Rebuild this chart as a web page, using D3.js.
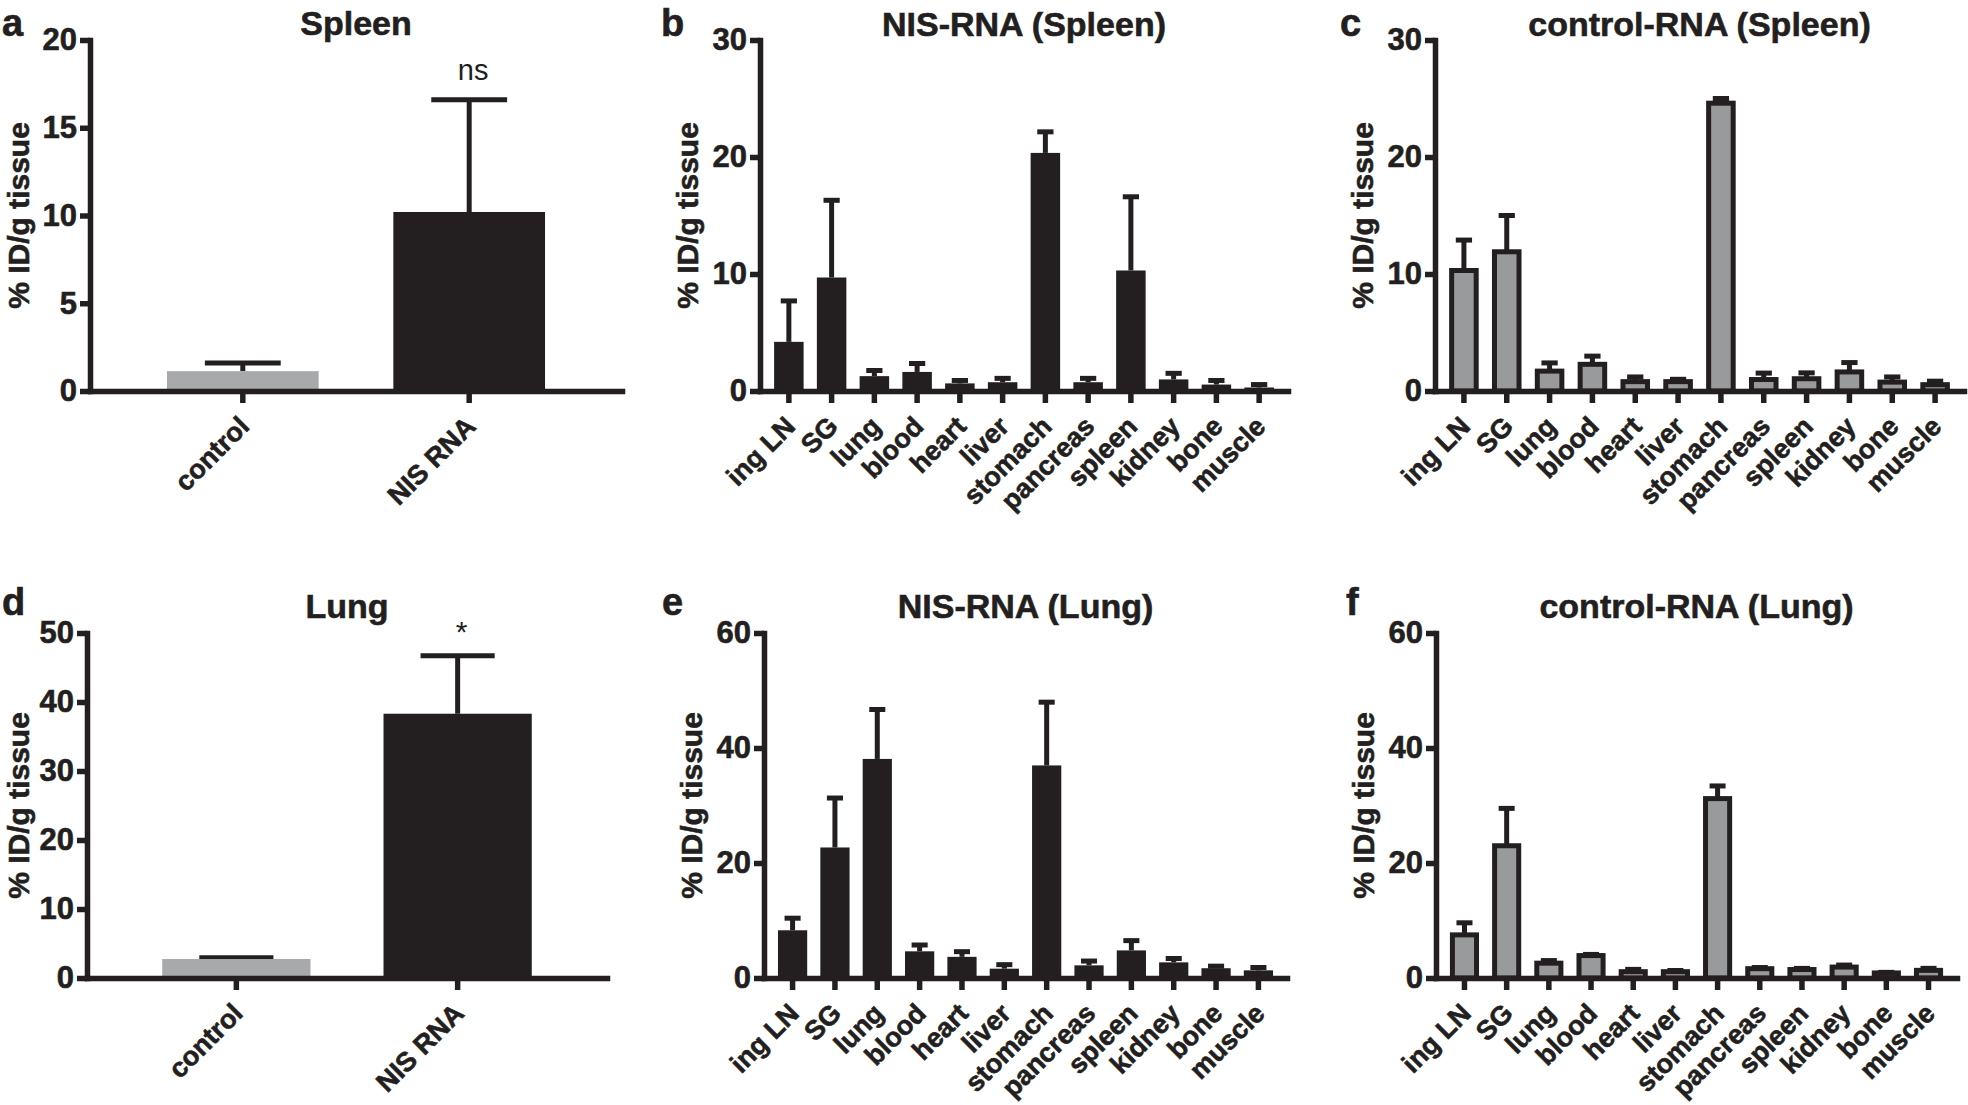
<!DOCTYPE html>
<html>
<head>
<meta charset="utf-8">
<script src="https://cdn.jsdelivr.net/npm/d3@7"></script>
<style>
body { margin: 0; background: #fff; }
svg text { font-family: "Liberation Sans", Arial, sans-serif; fill: #231f20; }
</style>
</head>
<body>
<script>
// categories
let groups = ['control', 'NIS RNA'];
let organs = ['ing LN', 'SG', 'lung', 'blood', 'heart', 'liver', 'stomach', 'pancreas', 'spleen', 'kidney', 'bone', 'muscle'];

// a / d : control vs NIS RNA (mean, upper SEM)
let spleenMean = [1.13, 10.2];
let spleenSem = [0.47, 6.4];
let lungMean = [2.75, 38.3];
let lungSem = [0.17, 8.4];

// b / c : spleen tumour mice
let nisSpleenMean = [4.2, 9.7, 1.27, 1.63, 0.65, 0.75, 20.35, 0.75, 10.3, 0.99, 0.55, 0.3];
let nisSpleenSem = [3.5, 6.6, 0.48, 0.72, 0.25, 0.33, 1.8, 0.33, 6.3, 0.52, 0.35, 0.25];
let ctrlSpleenMean = [10.3, 11.9, 1.7, 2.28, 0.8, 0.8, 24.6, 0.98, 1.05, 1.63, 0.76, 0.54];
let ctrlSpleenSem = [2.6, 3.1, 0.7, 0.7, 0.4, 0.2, 0.4, 0.55, 0.5, 0.8, 0.44, 0.3];

// e / f : lung tumour mice
let nisLungMean = [8.3, 22.7, 38.1, 4.64, 3.68, 1.62, 36.97, 2.2, 4.8, 2.72, 1.7, 1.33];
let nisLungSem = [2.1, 8.6, 8.6, 1.1, 0.9, 0.7, 11, 0.75, 1.7, 0.67, 0.36, 0.5];
let ctrlLungMean = [7.5, 23.0, 2.58, 3.9, 1.1, 1.1, 31.2, 1.62, 1.47, 1.9, 0.88, 1.33];
let ctrlLungSem = [2.1, 6.5, 0.45, 0.2, 0.4, 0.2, 2.2, 0.2, 0.2, 0.35, 0.1, 0.35];

// y tick labels
let ticksSpleen = [0, 5, 10, 15, 20];
let ticksLung = [0, 10, 20, 30, 40, 50];
let ticksOrgan30 = [0, 10, 20, 30];
let ticksOrgan60 = [0, 20, 40, 60];

let ink = '#231f20';
let lightGray = '#a7a9ab';
let midGray = '#999a9c';

let panels = [
    {letter: 'a', lx: 2, ly: 36, title: 'Spleen', ty: 35, cats: groups, mean: spleenMean, sem: spleenSem,
     ticks: ticksSpleen, x0: 90, x1: 622, top: 40, zero: 391, kind: 'pair', sig: 'ns'},
    {letter: 'b', lx: 661, ly: 36, title: 'NIS-RNA (Spleen)', ty: 36, cats: organs, mean: nisSpleenMean, sem: nisSpleenSem,
     ticks: ticksOrgan30, x0: 760, x1: 1288, top: 40, zero: 391, kind: 'nis'},
    {letter: 'c', lx: 1340, ly: 36, title: 'control-RNA (Spleen)', ty: 36, cats: organs, mean: ctrlSpleenMean, sem: ctrlSpleenSem,
     ticks: ticksOrgan30, x0: 1435, x1: 1964, top: 40, zero: 391, kind: 'ctrl'},
    {letter: 'd', lx: 2, ly: 615, title: 'Lung', ty: 618, cats: groups, mean: lungMean, sem: lungSem,
     ticks: ticksLung, x0: 87, x1: 607, top: 633, zero: 978, kind: 'pair', sig: '*'},
    {letter: 'e', lx: 662, ly: 615, title: 'NIS-RNA (Lung)', ty: 618, cats: organs, mean: nisLungMean, sem: nisLungSem,
     ticks: ticksOrgan60, x0: 764, x1: 1287, top: 633, zero: 978, kind: 'nis'},
    {letter: 'f', lx: 1346, ly: 615, title: 'control-RNA (Lung)', ty: 618, cats: organs, mean: ctrlLungMean, sem: ctrlLungSem,
     ticks: ticksOrgan60, x0: 1436, x1: 1957, top: 633, zero: 978, kind: 'ctrl'}
];

let svg = d3.select('body').append('svg')
    .attr('width', 1968)
    .attr('height', 1105);

//bold text with a touch of stroke so it reads as heavy as the print
function heavy(sel){
    return sel.attr('font-weight', 'bold')
        .attr('stroke', ink)
        .attr('stroke-width', 0.6);
}

panels.forEach(function(p){
    let g = svg.append('g');
    let pair = p.kind === 'pair';

    let x = d3.scaleBand()
        .domain(p.cats)
        .range([p.x0, p.x1])
        .paddingInner(pair ? 0.33 : 0.31)
        .paddingOuter(pair ? 0.34 : 0.33);
    let y = d3.scaleLinear()
        .domain([0, d3.max(p.ticks)])
        .range([p.zero, p.top]);

    let bw = x.bandwidth();
    let sw = 5;
    let capW = pair ? bw * 0.5 : bw * 0.55;
    let rows = p.cats.map(function(c, i){ return {cat: c, mean: p.mean[i], sem: p.sem[i], i: i}; });
    let cx = function(d){ return x(d.cat) + bw / 2; };

    //error bars go under the bars
    let eb = g.append('g').selectAll('g').data(rows).join('g');
    eb.append('line')
        .attr('x1', cx).attr('x2', cx)
        .attr('y1', function(d){ return y(d.mean); })
        .attr('y2', function(d){ return y(d.mean + d.sem); })
        .attr('stroke', ink).attr('stroke-width', sw);
    eb.append('line')
        .attr('x1', function(d){ return cx(d) - capW / 2; })
        .attr('x2', function(d){ return cx(d) + capW / 2; })
        .attr('y1', function(d){ return y(d.mean + d.sem); })
        .attr('y2', function(d){ return y(d.mean + d.sem); })
        .attr('stroke', ink).attr('stroke-width', sw);

    let bars = g.append('g').selectAll('rect').data(rows).join('rect');
    if (p.kind === 'ctrl') {
        bars.attr('x', function(d){ return x(d.cat) + sw / 2; })
            .attr('width', bw - sw)
            .attr('y', function(d){ return y(d.mean); })
            .attr('height', function(d){ return p.zero - y(d.mean); })
            .attr('fill', midGray)
            .attr('stroke', ink)
            .attr('stroke-width', sw);
    } else {
        bars.attr('x', function(d){ return x(d.cat); })
            .attr('width', bw)
            .attr('y', function(d){ return y(d.mean); })
            .attr('height', function(d){ return p.zero - y(d.mean); })
            .attr('fill', function(d){ return (pair && d.i === 0) ? lightGray : ink; });
    }

    //axes
    let yg = g.append('g')
        .attr('transform', `translate(${p.x0},0)`)
        .call(d3.axisLeft(y).tickValues(p.ticks).tickSize(10).tickSizeOuter(0).tickPadding(3));
    let xg = g.append('g')
        .attr('transform', `translate(0,${p.zero})`)
        .call(d3.axisBottom(x).tickSize(12).tickSizeOuter(0));

    [yg, xg].forEach(function(ax){
        ax.attr('color', ink).attr('font-family', null);
        ax.select('.domain').attr('stroke-width', 5.5).attr('stroke-linecap', 'square');
        ax.selectAll('.tick line').attr('stroke-width', 5.5);
    });
    heavy(yg.selectAll('.tick text'))
        .attr('font-size', 31);
    heavy(xg.selectAll('.tick text'))
        .attr('y', 0).attr('dy', 0)
        .attr('text-anchor', 'end')
        .attr('transform', 'translate(8,37) rotate(-45)')
        .attr('font-size', 27);

    //labels (keep the rotated y label inside the left edge)
    let labelX = Math.max(p.x0 - 62, 29);
    heavy(g.append('text'))
        .attr('text-anchor', 'middle')
        .attr('transform', `translate(${labelX},${(p.top + p.zero) / 2}) rotate(-90)`)
        .attr('font-size', 30)
        .text('% ID/g tissue');

    heavy(g.append('text'))
        .attr('x', (p.x0 + p.x1) / 2)
        .attr('y', p.ty)
        .attr('text-anchor', 'middle')
        .attr('font-size', 34)
        .text(p.title);

    heavy(g.append('text'))
        .attr('x', p.lx)
        .attr('y', p.ly)
        .attr('font-size', 38)
        .text(p.letter);

    if (p.sig) {
        let top = rows[1];
        g.append('text')
            .attr('x', cx(top) + 4)
            .attr('y', y(top.mean + top.sem) - (p.sig === '*' ? 14 : 20))
            .attr('text-anchor', 'middle')
            .attr('font-size', p.sig === '*' ? 30 : 29)
            .text(p.sig);
    }
});
</script>
</body>
</html>
